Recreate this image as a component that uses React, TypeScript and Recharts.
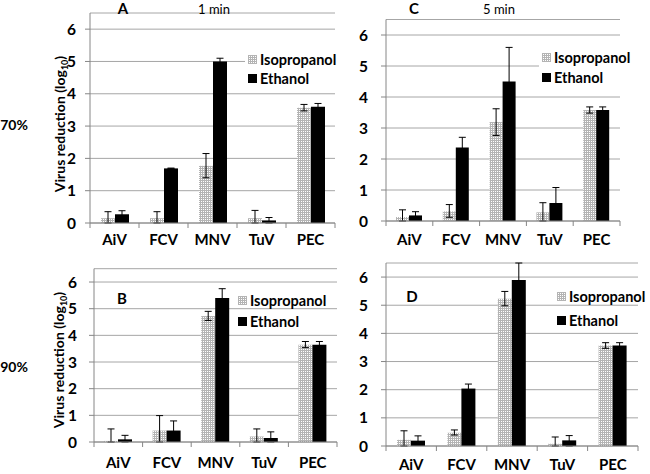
import React from 'react';
import { BarChart, Bar, XAxis, YAxis, CartesianGrid, ErrorBar, Legend } from 'recharts';

const viruses = ['AiV', 'FCV', 'MNV', 'TuV', 'PEC'];
const yTicks = [0, 1, 2, 3, 4, 5, 6];

// A: 70%, 1 min
const isoA = [0.15, 0.15, 1.77, 0.15, 3.57];
const isoErrA = [[0.15, 0.2], [0.15, 0.2], [0.37, 0.38], [0.15, 0.24], [0.1, 0.1]];
const ethA = [0.27, 1.69, 5.0, 0.08, 3.6];
const ethErrA = [[0.1, 0.11], [0.01, 0.01], [0.1, 0.1], [0.08, 0.09], [0.1, 0.1]];

// C: 70%, 5 min
const isoC = [0.13, 0.31, 3.19, 0.28, 3.58];
const isoErrC = [[0.13, 0.23], [0.19, 0.22], [0.43, 0.43], [0.28, 0.31], [0.1, 0.1]];
const ethC = [0.18, 2.37, 4.5, 0.58, 3.58];
const ethErrC = [[0.1, 0.12], [0.33, 0.33], [1.1, 1.1], [0.52, 0.5], [0.1, 0.1]];

// B: 90%, 1 min
const isoB = [0.04, 0.43, 4.73, 0.21, 3.65];
const isoErrB = [[0.04, 0.45], [0.43, 0.56], [0.17, 0.17], [0.21, 0.28], [0.11, 0.12]];
const ethB = [0.1, 0.43, 5.4, 0.15, 3.65];
const ethErrB = [[0.1, 0.15], [0.36, 0.36], [0.35, 0.35], [0.15, 0.23], [0.11, 0.12]];

// D: 90%, 5 min
const isoD = [0.22, 0.47, 5.23, 0.08, 3.57];
const isoErrD = [[0.22, 0.32], [0.08, 0.1], [0.25, 0.26], [0.08, 0.24], [0.1, 0.1]];
const ethD = [0.19, 2.04, 5.9, 0.2, 3.57];
const ethErrD = [[0.16, 0.17], [0.16, 0.16], [0.6, 0.6], [0.2, 0.17], [0.1, 0.1]];

const build = (iso: number[], isoErr: number[][], eth: number[], ethErr: number[][]) =>
  viruses.map((virus, i) => ({ virus, iso: iso[i], isoErr: isoErr[i], eth: eth[i], ethErr: ethErr[i] }));

const FONT = 'Lato, "Open Sans", sans-serif';
const AXIS = '#868686';
const GRID = '#a6a6a6';

const legendItems = [
  { name: 'Isopropanol', fill: 'url(#isoPattern)' },
  { name: 'Ethanol', fill: '#000' },
];

const LegendBox = ({ bg, rowH }: { bg: boolean; rowH: number }) => (
  <div style={{ background: bg ? '#fff' : 'transparent', paddingLeft: 3, paddingRight: 2, fontFamily: FONT }}>
    {legendItems.map((it) => (
      <div key={it.name} style={{ display: 'flex', alignItems: 'center', height: rowH }}>
        <svg width={9} height={9} style={{ marginRight: 3 }}>
          <rect x={0} y={0} width={9} height={9} fill={it.fill} />
        </svg>
        <span style={{ fontSize: 14.5, fontWeight: 700, color: '#000', whiteSpace: 'nowrap' }}>{it.name}</span>
      </div>
    ))}
  </div>
);

interface PanelProps {
  data: ReturnType<typeof build>;
  left: number;
  top: number;
  width: number;
  height: number;
  margin: { top: number; right: number; left: number; bottom: number };
  xHeight: number;
  band: number;
  barSize: number;
  yTickMargin: number;
  labelDy: number;
  legend: { left: number; top: number; bg: boolean; rowH: number };
}

const Panel = (p: PanelProps) => {
  const renderTick = (t: any) => {
    const { x, y, payload, index } = t;
    return (
      <g>
        <line x1={x - p.band / 2} y1={y} x2={x - p.band / 2} y2={y + 5} stroke={AXIS} />
        {index === viruses.length - 1 && (
          <line x1={x + p.band / 2} y1={y} x2={x + p.band / 2} y2={y + 5} stroke={AXIS} />
        )}
        <text x={x} y={y + p.labelDy} textAnchor="middle" fontSize={15} fontWeight={700} fill="#000" fontFamily={FONT}>
          {payload.value}
        </text>
      </g>
    );
  };

  return (
    <div style={{ position: 'absolute', left: p.left, top: p.top }}>
      <BarChart width={p.width} height={p.height} data={p.data} margin={p.margin} barGap={0}>
        <CartesianGrid vertical={false} stroke={GRID} />
        <XAxis
          dataKey="virus"
          height={p.xHeight}
          interval={0}
          tickLine={false}
          tickSize={0}
          tickMargin={0}
          axisLine={{ stroke: AXIS }}
          tick={renderTick}
        />
        <YAxis
          width={30}
          domain={[0, 6.5]}
          ticks={yTicks}
          interval={0}
          tickSize={5}
          tickMargin={p.yTickMargin}
          axisLine={{ stroke: AXIS }}
          tickLine={{ stroke: AXIS }}
          tick={{ fontSize: 15.5, fontWeight: 700, fill: '#000', fontFamily: FONT }}
        />
        <Legend
          layout="vertical"
          align="center"
          verticalAlign="middle"
          wrapperStyle={{ left: p.legend.left, top: p.legend.top, width: 'auto', height: 'auto' }}
          content={() => <LegendBox bg={p.legend.bg} rowH={p.legend.rowH} />}
        />
        <Bar dataKey="iso" name="Isopropanol" fill="url(#isoPattern)" barSize={p.barSize} isAnimationActive={false}>
          <ErrorBar dataKey="isoErr" width={3.5} stroke="#000" strokeWidth={1} />
        </Bar>
        <Bar dataKey="eth" name="Ethanol" fill="#000" barSize={p.barSize} isAnimationActive={false}>
          <ErrorBar dataKey="ethErr" width={3.5} stroke="#000" strokeWidth={1} />
        </Bar>
      </BarChart>
    </div>
  );
};

const abs = (left: number, top: number, extra: React.CSSProperties = {}): React.CSSProperties => ({
  position: 'absolute',
  left,
  top,
  fontFamily: FONT,
  color: '#000',
  whiteSpace: 'nowrap',
  lineHeight: 1,
  ...extra,
});

const YLabel = ({ cx, cy }: { cx: number; cy: number }) => (
  <div
    style={abs(cx, cy, {
      transform: 'translate(-50%, -50%) rotate(-90deg)',
      fontSize: 14,
      fontWeight: 700,
    })}
  >
    Virus reduction (log<sub style={{ fontSize: 9, verticalAlign: -3 }}>10</sub>)
  </div>
);

export default function App() {
  return (
    <div style={{ position: 'absolute', left: 0, top: 0, width: 650, height: 474, background: '#fff', overflow: 'hidden' }}>
      <svg width={0} height={0} style={{ position: 'absolute' }}>
        <defs>
          <pattern id="isoPattern" width={2} height={2} patternUnits="userSpaceOnUse">
            <rect width={2} height={2} fill="#fff" />
            <path d="M0 0.5H2M0.5 0V2" stroke="#b4b4b4" strokeWidth={1} />
          </pattern>
        </defs>
      </svg>

      <Panel
        data={build(isoA, isoErrA, ethA, ethErrA)}
        left={0}
        top={0}
        width={340}
        height={250}
        margin={{ top: 13, right: 5, left: 60, bottom: 0 }}
        xHeight={27}
        band={49}
        barSize={14}
        yTickMargin={9}
        labelDy={22}
        legend={{ left: 245, top: 50, bg: true, rowH: 19 }}
      />
      <Panel
        data={build(isoC, isoErrC, ethC, ethErrC)}
        left={340}
        top={0}
        width={300}
        height={250}
        margin={{ top: 19.5, right: 20, left: 16, bottom: 0 }}
        xHeight={29}
        band={46.8}
        barSize={13}
        yTickMargin={13}
        labelDy={24}
        legend={{ left: 199, top: 47, bg: true, rowH: 20 }}
      />
      <Panel
        data={build(isoB, isoErrB, ethB, ethErrB)}
        left={0}
        top={250}
        width={345}
        height={224}
        margin={{ top: 18.7, right: 8, left: 64, bottom: 0 }}
        xHeight={32}
        band={48.6}
        barSize={14}
        yTickMargin={12}
        labelDy={26}
        legend={{ left: 235, top: 39.5, bg: false, rowH: 21 }}
      />
      <Panel
        data={build(isoD, isoErrD, ethD, ethErrD)}
        left={340}
        top={250}
        width={310}
        height={224}
        margin={{ top: 13, right: 12, left: 16, bottom: 0 }}
        xHeight={28}
        band={50.4}
        barSize={14}
        yTickMargin={13}
        labelDy={24}
        legend={{ left: 214, top: 34, bg: false, rowH: 24 }}
      />

      <YLabel cx={61} cy={124} />
      <YLabel cx={60} cy={360} />

      <div style={abs(14, 125, { transform: 'translate(-50%, -50%)', fontSize: 14, fontWeight: 700 })}>70%</div>
      <div style={abs(14, 367, { transform: 'translate(-50%, -50%)', fontSize: 14, fontWeight: 700 })}>90%</div>

      <div style={abs(123, 8, { transform: 'translate(-50%, -50%)', fontSize: 15, fontWeight: 700 })}>A</div>
      <div style={abs(214, 9, { transform: 'translate(-50%, -50%)', fontSize: 13 })}>1 min</div>
      <div style={abs(414, 8, { transform: 'translate(-50%, -50%)', fontSize: 15, fontWeight: 700 })}>C</div>
      <div style={abs(499, 9, { transform: 'translate(-50%, -50%)', fontSize: 13 })}>5 min</div>
      <div style={abs(122, 298, { transform: 'translate(-50%, -50%)', fontSize: 15, fontWeight: 700 })}>B</div>
      <div style={abs(412, 296, { transform: 'translate(-50%, -50%)', fontSize: 15, fontWeight: 700 })}>D</div>
    </div>
  );
}
